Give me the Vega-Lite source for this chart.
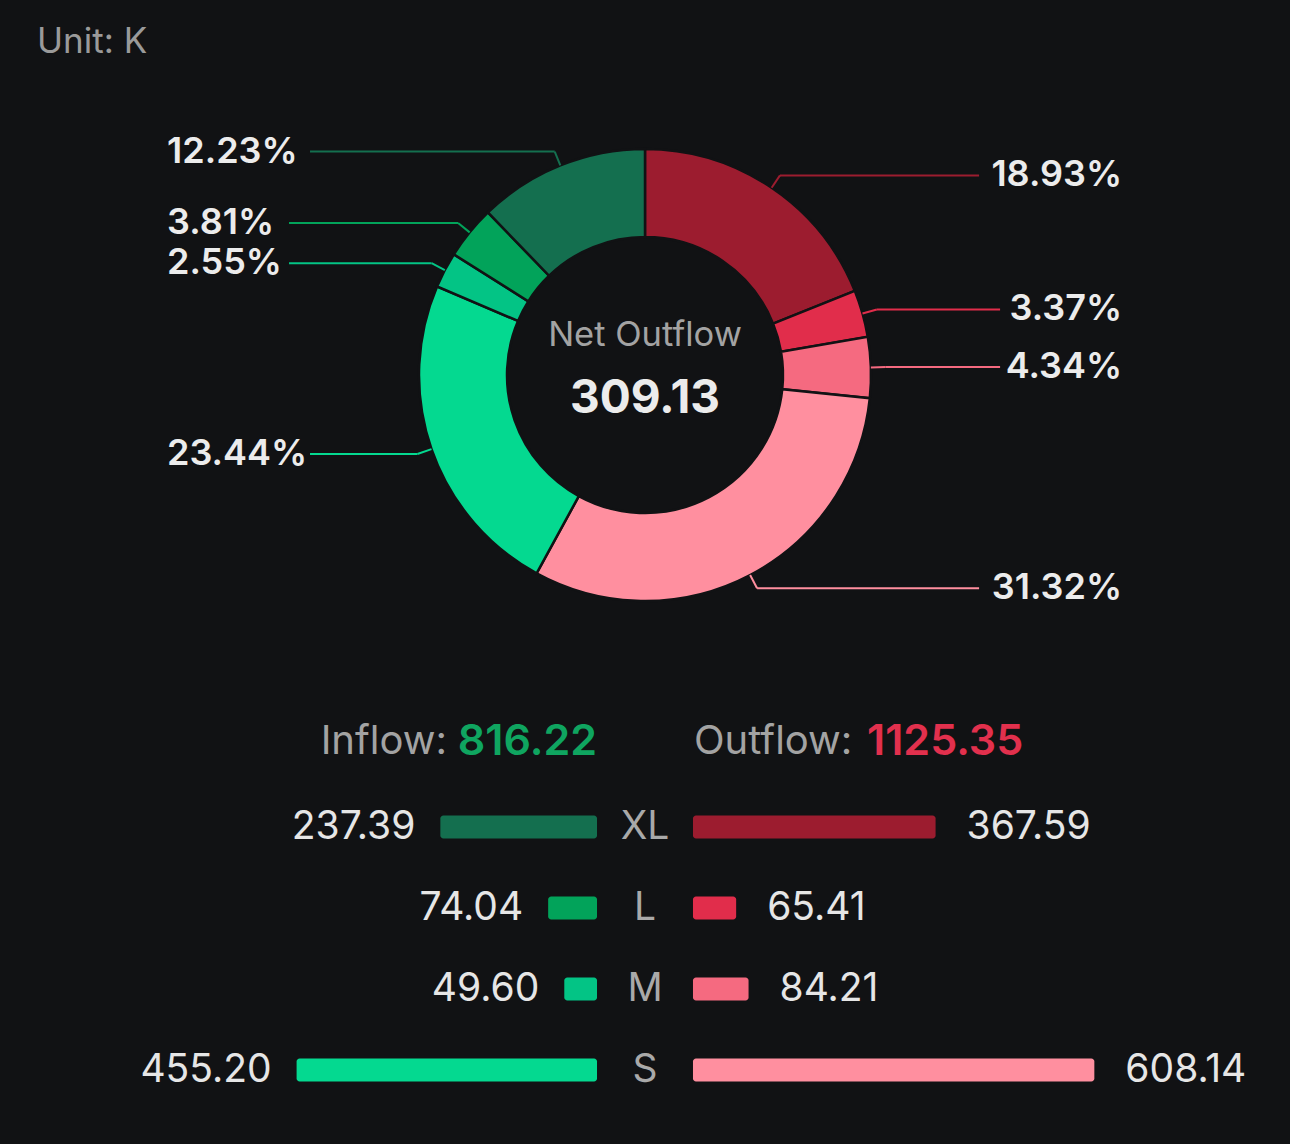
{
  "$schema": "https://vega.github.io/schema/vega-lite/v6.json",
  "background": "#111214",
  "padding": 0,
  "spacing": 0,
  "config": {"view": {"stroke": null}, "text": {"font": "Inter"}},
  "datasets": {
    "flows": [
      {"size": "XL", "flow": "Outflow", "value": 367.59, "order": 1},
      {"size": "L", "flow": "Outflow", "value": 65.41, "order": 2},
      {"size": "M", "flow": "Outflow", "value": 84.21, "order": 3},
      {"size": "S", "flow": "Outflow", "value": 608.14, "order": 4},
      {"size": "S", "flow": "Inflow", "value": 455.20, "order": 5},
      {"size": "M", "flow": "Inflow", "value": 49.60, "order": 6},
      {"size": "L", "flow": "Inflow", "value": 74.04, "order": 7},
      {"size": "XL", "flow": "Inflow", "value": 237.39, "order": 8}
    ]
  },
  "vconcat": [
    {
      "width": 1290,
      "height": 672,
      "data": {"name": "flows"},
      "transform": [
        {"calculate": "datum.flow + ' ' + datum.size", "as": "key"},
        {"joinaggregate": [{"op": "sum", "field": "value", "as": "total"}]},
        {"window": [{"op": "sum", "field": "value", "as": "cum"}], "sort": [{"field": "order", "order": "ascending"}], "frame": [null, 0]},
        {"calculate": "2 * PI * (datum.cum - datum.value / 2) / datum.total", "as": "mid"},
        {"calculate": "sin(datum.mid)", "as": "sx"},
        {"calculate": "cos(datum.mid)", "as": "sy"},
        {"calculate": "1.066 * sin(datum.mid)", "as": "ex"},
        {"calculate": "1.066 * cos(datum.mid)", "as": "ey"},
        {"calculate": "datum.mid < PI ? 'R' : 'L'", "as": "side"},
        {"calculate": "format(datum.value / datum.total, '.2%')", "as": "label"},
        {"calculate": "datum.side == 'R' ? 2.111 - (length(datum.label) * 21 + 17) / 226 : -2.115 + (length(datum.label) * 21 + 17) / 226", "as": "lx"}
      ],
      "layer": [
        {
          "mark": {"type": "arc", "innerRadius": 138, "outerRadius": 226, "stroke": "#111214", "strokeWidth": 2.5},
          "encoding": {
            "theta": {"field": "value", "type": "quantitative", "stack": true},
            "order": {"field": "order", "type": "quantitative", "sort": "ascending"},
            "color": {"field": "key", "type": "nominal", "legend": null,
              "scale": {"domain": ["Outflow XL", "Outflow L", "Outflow M", "Outflow S", "Inflow S", "Inflow M", "Inflow L", "Inflow XL"],
                        "range": ["#9c1c2f", "#e12d4b", "#f56a80", "#ff8f9f", "#04d990", "#03c485", "#02a35a", "#146f4f"]}},
            "x": {"datum": 0, "type": "quantitative", "axis": null, "scale": {"domain": [-2.854, 2.854], "nice": false, "zero": false}},
            "y": {"datum": 0, "type": "quantitative", "axis": null, "scale": {"domain": [-1.314, 1.659], "nice": false, "zero": false}}
          }
        },
        {
          "mark": {"type": "rule", "strokeWidth": 2},
          "encoding": {
            "x": {"field": "sx", "type": "quantitative", "axis": null, "scale": {"domain": [-2.854, 2.854], "nice": false, "zero": false}},
            "y": {"field": "sy", "type": "quantitative", "axis": null, "scale": {"domain": [-1.314, 1.659], "nice": false, "zero": false}},
            "x2": {"field": "ex"},
            "y2": {"field": "ey"},
            "color": {"field": "key", "type": "nominal", "legend": null}
          }
        },
        {
          "mark": {"type": "rule", "strokeWidth": 2},
          "encoding": {
            "x": {"field": "ex", "type": "quantitative", "axis": null, "scale": {"domain": [-2.854, 2.854], "nice": false, "zero": false}},
            "y": {"field": "ey", "type": "quantitative", "axis": null, "scale": {"domain": [-1.314, 1.659], "nice": false, "zero": false}},
            "x2": {"field": "lx"},
            "y2": {"field": "ey"},
            "color": {"field": "key", "type": "nominal", "legend": null}
          }
        },
        {
          "transform": [{"filter": "datum.side == 'R'"}],
          "mark": {"type": "text", "align": "right", "baseline": "middle", "fontSize": 36, "fontWeight": 600, "fill": "#ececec"},
          "encoding": {
            "x": {"datum": 2.111, "type": "quantitative", "axis": null, "scale": {"domain": [-2.854, 2.854], "nice": false, "zero": false}},
            "y": {"field": "ey", "type": "quantitative", "axis": null, "scale": {"domain": [-1.314, 1.659], "nice": false, "zero": false}},
            "text": {"field": "label"}
          }
        },
        {
          "transform": [{"filter": "datum.side == 'L'"}],
          "mark": {"type": "text", "align": "left", "baseline": "middle", "fontSize": 36, "fontWeight": 600, "fill": "#ececec"},
          "encoding": {
            "x": {"datum": -2.115, "type": "quantitative", "axis": null, "scale": {"domain": [-2.854, 2.854], "nice": false, "zero": false}},
            "y": {"field": "ey", "type": "quantitative", "axis": null, "scale": {"domain": [-1.314, 1.659], "nice": false, "zero": false}},
            "text": {"field": "label"}
          }
        },
        {
          "data": {"values": [{"t": "Net Outflow", "px": 0, "py": 0.1726}]},
          "mark": {"type": "text", "align": "center", "baseline": "middle", "fontSize": 34.5, "fill": "#a3a3a3"},
          "encoding": {
            "x": {"field": "px", "type": "quantitative", "axis": null, "scale": {"domain": [-2.854, 2.854], "nice": false, "zero": false}},
            "y": {"field": "py", "type": "quantitative", "axis": null, "scale": {"domain": [-1.314, 1.659], "nice": false, "zero": false}},
            "text": {"field": "t"}
          }
        },
        {
          "data": {"values": [{"t": "309.13", "px": 0, "py": -0.106}]},
          "mark": {"type": "text", "align": "center", "baseline": "middle", "fontSize": 46, "fontWeight": 700, "fill": "#ececec"},
          "encoding": {
            "x": {"field": "px", "type": "quantitative", "axis": null, "scale": {"domain": [-2.854, 2.854], "nice": false, "zero": false}},
            "y": {"field": "py", "type": "quantitative", "axis": null, "scale": {"domain": [-1.314, 1.659], "nice": false, "zero": false}},
            "text": {"field": "t"}
          }
        },
        {
          "data": {"values": [{"t": "Unit: K", "px": -2.69, "py": 1.473}]},
          "mark": {"type": "text", "align": "left", "baseline": "middle", "fontSize": 35, "fill": "#9a9a9a"},
          "encoding": {
            "x": {"field": "px", "type": "quantitative", "axis": null, "scale": {"domain": [-2.854, 2.854], "nice": false, "zero": false}},
            "y": {"field": "py", "type": "quantitative", "axis": null, "scale": {"domain": [-1.314, 1.659], "nice": false, "zero": false}},
            "text": {"field": "t"}
          }
        }
      ]
    },
    {
      "width": 1290,
      "height": 472,
      "data": {"name": "flows"},
      "transform": [
        {"calculate": "datum.flow + ' ' + datum.size", "as": "key"},
        {"calculate": "datum.flow == 'Inflow' ? -72.7 : 72.7", "as": "base"},
        {"calculate": "datum.flow == 'Inflow' ? -72.7 - datum.value : 72.7 + datum.value", "as": "end"}
      ],
      "layer": [
        {
          "mark": {"type": "bar", "size": 23, "cornerRadius": 3},
          "encoding": {
            "x": {"field": "base", "type": "quantitative", "axis": null, "scale": {"domain": [-977.3, 977.3], "nice": false, "zero": false}},
            "x2": {"field": "end"},
            "y": {"field": "size", "type": "nominal", "axis": null, "scale": {"type": "point", "domain": ["H", "XL", "L", "M", "S"], "padding": 0.9136}},
            "color": {"field": "key", "type": "nominal", "legend": null,
              "scale": {"domain": ["Outflow XL", "Outflow L", "Outflow M", "Outflow S", "Inflow S", "Inflow M", "Inflow L", "Inflow XL"],
                        "range": ["#9c1c2f", "#e12d4b", "#f56a80", "#ff8f9f", "#04d990", "#03c485", "#02a35a", "#146f4f"]}}
          }
        },
        {
          "transform": [{"filter": "datum.flow == 'Inflow'"}],
          "mark": {"type": "text", "align": "right", "baseline": "middle", "dx": -25, "fontSize": 39, "fill": "#e6e6e6"},
          "encoding": {
            "x": {"field": "end", "type": "quantitative", "axis": null, "scale": {"domain": [-977.3, 977.3], "nice": false, "zero": false}},
            "y": {"field": "size", "type": "nominal", "axis": null, "scale": {"type": "point", "domain": ["H", "XL", "L", "M", "S"], "padding": 0.9136}},
            "text": {"field": "value", "type": "quantitative", "format": ".2f"}
          }
        },
        {
          "transform": [{"filter": "datum.flow == 'Outflow'"}],
          "mark": {"type": "text", "align": "left", "baseline": "middle", "dx": 31, "fontSize": 39, "fill": "#e6e6e6"},
          "encoding": {
            "x": {"field": "end", "type": "quantitative", "axis": null, "scale": {"domain": [-977.3, 977.3], "nice": false, "zero": false}},
            "y": {"field": "size", "type": "nominal", "axis": null, "scale": {"type": "point", "domain": ["H", "XL", "L", "M", "S"], "padding": 0.9136}},
            "text": {"field": "value", "type": "quantitative", "format": ".2f"}
          }
        },
        {
          "transform": [{"filter": "datum.flow == 'Inflow'"}],
          "mark": {"type": "text", "align": "center", "baseline": "middle", "fontSize": 39, "fill": "#a9a9a9"},
          "encoding": {
            "x": {"datum": 0, "type": "quantitative", "axis": null, "scale": {"domain": [-977.3, 977.3], "nice": false, "zero": false}},
            "y": {"field": "size", "type": "nominal", "axis": null, "scale": {"type": "point", "domain": ["H", "XL", "L", "M", "S"], "padding": 0.9136}},
            "text": {"field": "size"}
          }
        },
        {
          "data": {"values": [
            {"row": "H", "t": "Inflow:", "px": -72.7, "off": -150, "al": "right"},
            {"row": "H", "t": "Outflow:", "px": 72.7, "off": 1, "al": "left"}
          ]},
          "mark": {"type": "text", "baseline": "middle", "fontSize": 40, "dy": -4, "fill": "#a3a3a3", "align": {"expr": "datum.al"}, "dx": {"expr": "datum.off"}},
          "encoding": {
            "x": {"field": "px", "type": "quantitative", "axis": null, "scale": {"domain": [-977.3, 977.3], "nice": false, "zero": false}},
            "y": {"field": "row", "type": "nominal", "axis": null, "scale": {"type": "point", "domain": ["H", "XL", "L", "M", "S"], "padding": 0.9136}},
            "text": {"field": "t"}
          }
        },
        {
          "data": {"values": [{"row": "H", "t": "816.22", "px": -72.7}]},
          "mark": {"type": "text", "baseline": "middle", "align": "right", "fontSize": 43, "fontWeight": 600, "dy": -4, "fill": "#0fa560"},
          "encoding": {
            "x": {"field": "px", "type": "quantitative", "axis": null, "scale": {"domain": [-977.3, 977.3], "nice": false, "zero": false}},
            "y": {"field": "row", "type": "nominal", "axis": null, "scale": {"type": "point", "domain": ["H", "XL", "L", "M", "S"], "padding": 0.9136}},
            "text": {"field": "t"}
          }
        },
        {
          "data": {"values": [{"row": "H", "t": "1125.35", "px": 72.7}]},
          "mark": {"type": "text", "baseline": "middle", "align": "left", "dx": 174, "fontSize": 43, "fontWeight": 600, "dy": -4, "fill": "#e2304d"},
          "encoding": {
            "x": {"field": "px", "type": "quantitative", "axis": null, "scale": {"domain": [-977.3, 977.3], "nice": false, "zero": false}},
            "y": {"field": "row", "type": "nominal", "axis": null, "scale": {"type": "point", "domain": ["H", "XL", "L", "M", "S"], "padding": 0.9136}},
            "text": {"field": "t"}
          }
        }
      ]
    }
  ]
}
